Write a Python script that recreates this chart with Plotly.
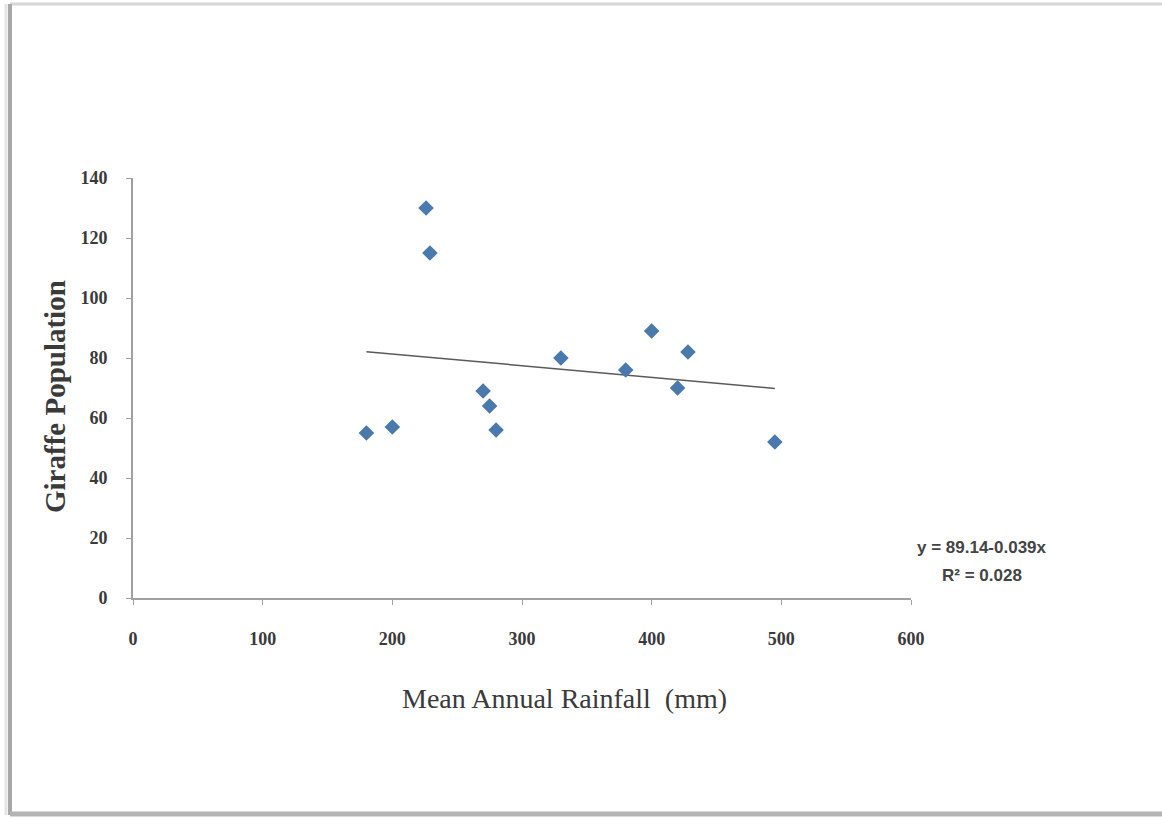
import plotly.graph_objects as go

rainfall = [180, 200, 226, 229, 270, 275, 280, 330, 380, 400, 420, 428, 495]
giraffes = [55, 57, 130, 115, 69, 64, 56, 80, 76, 89, 70, 82, 52]

intercept = 89.14
slope = -0.039
trend_x = [180, 495]
trend_y = [intercept + slope * v for v in trend_x]

x_ticks = [0, 100, 200, 300, 400, 500, 600]
y_ticks = [0, 20, 40, 60, 80, 100, 120, 140]

W, H = 1162, 818
L, T, PW, PH = 133, 178, 778, 420


def px(xp):
    return (xp - L) / PW


def py(yp):
    return (T + PH - yp) / PH


fig = go.Figure()
fig.add_trace(go.Scatter(x=trend_x, y=trend_y, mode="lines",
                         line=dict(color="#5a5a5a", width=1.5), showlegend=False))
fig.add_trace(go.Scatter(x=rainfall, y=giraffes, mode="markers",
                         marker=dict(symbol="diamond", size=12, color="#4a7aad"),
                         showlegend=False))

tickfont = dict(family="Liberation Serif, serif", size=18, color="#3a3a3a", weight="bold")
fig.update_layout(
    width=W, height=H,
    margin=dict(l=L, r=W - L - PW, t=T, b=H - T - PH),
    paper_bgcolor="white", plot_bgcolor="white",
    xaxis=dict(range=[0, 600], tickvals=x_ticks, showgrid=False, zeroline=False,
               showline=True, linecolor="#a0a0a0", linewidth=2,
               ticks="outside", ticklen=5, tickcolor="#a0a0a0",
               tickfont=tickfont, ticklabelstandoff=18),
    yaxis=dict(range=[0, 140], tickvals=y_ticks, showgrid=False, zeroline=False,
               showline=True, linecolor="#a0a0a0", linewidth=2,
               ticks="outside", ticklen=5, tickcolor="#a0a0a0",
               tickfont=tickfont, ticklabelstandoff=15),
    annotations=[
        dict(text="<b>Giraffe Population</b>", xref="paper", yref="paper",
             x=px(55), y=py(397), showarrow=False, textangle=-90,
             xanchor="center", yanchor="middle",
             font=dict(family="Liberation Serif, serif", size=29, color="#3a3a3a")),
        dict(text="Mean Annual Rainfall  (mm)", xref="paper", yref="paper",
             x=px(564), y=py(698), showarrow=False,
             xanchor="center", yanchor="middle",
             font=dict(family="Liberation Serif, serif", size=28, color="#3a3a3a")),
        dict(text="<b>y = 89.14-0.039x</b>", xref="paper", yref="paper",
             x=px(982), y=py(547), showarrow=False,
             xanchor="center", yanchor="middle",
             font=dict(family="Liberation Sans, sans-serif", size=17, color="#444444")),
        dict(text="<b>R² = 0.028</b>", xref="paper", yref="paper",
             x=px(982), y=py(575), showarrow=False,
             xanchor="center", yanchor="middle",
             font=dict(family="Liberation Sans, sans-serif", size=17, color="#444444")),
    ],
    shapes=[
        dict(type="line", xref="paper", yref="paper", layer="below",
             x0=px(10), x1=px(1170), y0=py(4), y1=py(4),
             line=dict(color="#d6d6d6", width=3)),
        dict(type="line", xref="paper", yref="paper", layer="below",
             x0=px(10), x1=px(10), y0=py(4), y1=py(815),
             line=dict(color="#a8a8a8", width=4)),
        dict(type="line", xref="paper", yref="paper", layer="below",
             x0=px(6), x1=px(6), y0=py(4), y1=py(815),
             line=dict(color="#e4e4e4", width=3)),
        dict(type="line", xref="paper", yref="paper", layer="below",
             x0=px(10), x1=px(1170), y0=py(814), y1=py(814),
             line=dict(color="#b4b4b4", width=5)),
    ],
)

fig.write_html("out.html", config={"displayModeBar": False},
               post_script="document.body.style.margin='0px';")
